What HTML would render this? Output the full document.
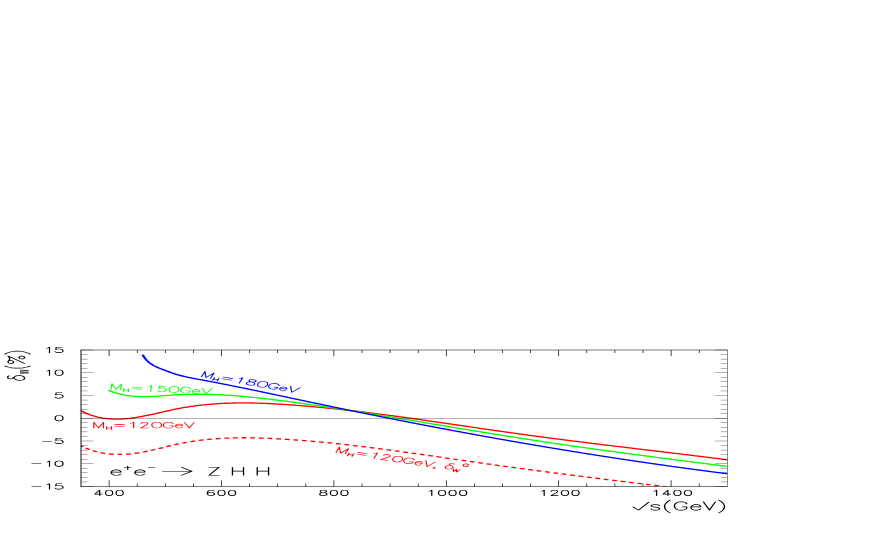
<!DOCTYPE html>
<html><head><meta charset="utf-8"><title>plot</title>
<style>html,body{margin:0;padding:0;background:#fff;font-family:"Liberation Sans",sans-serif}svg{display:block}</style></head>
<body>
<svg width="872" height="545" viewBox="0 0 872 545">
<rect width="872" height="545" fill="#fff"/>
<g transform="scale(2 1)" fill="none">
<clipPath id="c"><rect x="40.50" y="350.00" width="323.15" height="136.50"/></clipPath>
<g clip-path="url(#c)" stroke-linejoin="round">
<path d="M40.50 445.93 L41.09 446.49 L41.67 447.02 L42.26 447.53 L42.85 448.03 L43.44 448.50 L44.02 448.95 L44.61 449.38 L45.20 449.79 L45.78 450.18 L46.37 450.55 L46.96 450.90 L47.55 451.23 L48.13 451.55 L48.72 451.85 L49.31 452.12 L49.89 452.39 L50.48 452.63 L51.07 452.86 L51.66 453.07 L52.24 453.26 L52.83 453.44 L53.42 453.60 L54.01 453.75 L54.59 453.88 L55.18 453.99 L55.77 454.10 L56.35 454.18 L56.94 454.26 L57.53 454.32 L58.12 454.36 L58.70 454.40 L59.29 454.42 L59.88 454.43 L60.46 454.42 L61.05 454.40 L61.64 454.37 L62.23 454.33 L62.81 454.27 L63.40 454.20 L63.99 454.12 L64.57 454.02 L65.16 453.91 L65.75 453.79 L66.34 453.66 L66.92 453.51 L67.51 453.36 L68.10 453.19 L68.68 453.02 L69.27 452.83 L69.86 452.64 L70.45 452.43 L71.03 452.22 L71.62 452.00 L72.21 451.78 L72.79 451.54 L73.38 451.30 L73.97 451.06 L74.56 450.81 L75.14 450.55 L75.73 450.29 L76.32 450.02 L76.90 449.75 L77.49 449.48 L78.08 449.20 L78.67 448.92 L79.25 448.64 L79.84 448.36 L80.43 448.07 L81.02 447.79 L81.60 447.50 L82.19 447.21 L82.78 446.93 L83.36 446.64 L83.95 446.36 L84.54 446.08 L85.13 445.80 L85.71 445.52 L86.30 445.25 L86.89 444.98 L87.47 444.72 L88.06 444.46 L88.65 444.20 L89.24 443.95 L89.82 443.70 L90.41 443.46 L91.00 443.23 L91.58 443.00 L92.17 442.78 L92.76 442.56 L93.35 442.35 L93.93 442.14 L94.52 441.94 L95.11 441.75 L95.69 441.56 L96.28 441.38 L96.87 441.20 L97.46 441.02 L98.04 440.86 L98.63 440.69 L99.22 440.53 L99.80 440.38 L100.39 440.23 L100.98 440.09 L101.57 439.95 L102.15 439.82 L102.74 439.69 L103.33 439.56 L103.91 439.45 L104.50 439.33 L105.09 439.22 L105.68 439.11 L106.26 439.01 L106.85 438.92 L107.44 438.82 L108.03 438.74 L108.61 438.65 L109.20 438.57 L109.79 438.50 L110.37 438.42 L110.96 438.36 L111.55 438.29 L112.14 438.23 L112.72 438.18 L113.31 438.13 L113.90 438.08 L114.48 438.03 L115.07 437.99 L115.66 437.95 L116.25 437.92 L116.83 437.89 L117.42 437.86 L118.01 437.84 L118.59 437.82 L119.18 437.80 L119.77 437.79 L120.36 437.78 L120.94 437.77 L121.53 437.77 L122.12 437.77 L122.70 437.77 L123.29 437.78 L123.88 437.79 L124.47 437.80 L125.05 437.81 L125.64 437.83 L126.23 437.85 L126.81 437.87 L127.40 437.89 L127.99 437.92 L128.58 437.95 L129.16 437.98 L129.75 438.01 L130.34 438.05 L130.92 438.09 L131.51 438.13 L132.10 438.17 L132.69 438.22 L133.27 438.27 L133.86 438.32 L134.45 438.37 L135.04 438.42 L135.62 438.48 L136.21 438.53 L136.80 438.59 L137.38 438.65 L137.97 438.72 L138.56 438.78 L139.15 438.84 L139.73 438.91 L140.32 438.98 L140.91 439.05 L141.49 439.12 L142.08 439.19 L142.67 439.27 L143.26 439.34 L143.84 439.42 L144.43 439.50 L145.02 439.57 L145.60 439.66 L146.19 439.74 L146.78 439.82 L147.37 439.90 L147.95 439.99 L148.54 440.08 L149.13 440.16 L149.71 440.25 L150.30 440.34 L150.89 440.44 L151.48 440.53 L152.06 440.62 L152.65 440.72 L153.24 440.82 L153.82 440.91 L154.41 441.01 L155.00 441.11 L155.59 441.21 L156.17 441.32 L156.76 441.42 L157.35 441.52 L157.93 441.63 L158.52 441.74 L159.11 441.85 L159.70 441.95 L160.28 442.06 L160.87 442.18 L161.46 442.29 L162.05 442.40 L162.63 442.52 L163.22 442.63 L163.81 442.75 L164.39 442.86 L164.98 442.98 L165.57 443.10 L166.16 443.22 L166.74 443.34 L167.33 443.47 L167.92 443.59 L168.50 443.71 L169.09 443.84 L169.68 443.96 L170.27 444.09 L170.85 444.22 L171.44 444.35 L172.03 444.48 L172.61 444.61 L173.20 444.74 L173.79 444.87 L174.38 445.00 L174.96 445.14 L175.55 445.27 L176.14 445.41 L176.72 445.54 L177.31 445.68 L177.90 445.82 L178.49 445.96 L179.07 446.10 L179.66 446.24 L180.25 446.38 L180.83 446.52 L181.42 446.66 L182.01 446.80 L182.60 446.95 L183.18 447.09 L183.77 447.24 L184.36 447.38 L184.94 447.53 L185.53 447.68 L186.12 447.82 L186.71 447.97 L187.29 448.12 L187.88 448.27 L188.47 448.42 L189.06 448.57 L189.64 448.72 L190.23 448.87 L190.82 449.03 L191.40 449.18 L191.99 449.33 L192.58 449.49 L193.17 449.64 L193.75 449.80 L194.34 449.95 L194.93 450.11 L195.51 450.27 L196.10 450.42 L196.69 450.58 L197.28 450.74 L197.86 450.90 L198.45 451.06 L199.04 451.22 L199.62 451.38 L200.21 451.54 L200.80 451.70 L201.39 451.86 L201.97 452.02 L202.56 452.18 L203.15 452.35 L203.73 452.51 L204.32 452.67 L204.91 452.84 L205.50 453.00 L206.08 453.16 L206.67 453.33 L207.26 453.49 L207.84 453.66 L208.43 453.82 L209.02 453.99 L209.61 454.15 L210.19 454.32 L210.78 454.49 L211.37 454.65 L211.95 454.82 L212.54 454.99 L213.13 455.15 L213.72 455.32 L214.30 455.49 L214.89 455.66 L215.48 455.82 L216.07 455.99 L216.65 456.16 L217.24 456.33 L217.83 456.50 L218.41 456.67 L219.00 456.83 L219.59 457.00 L220.18 457.17 L220.76 457.34 L221.35 457.51 L221.94 457.68 L222.52 457.85 L223.11 458.02 L223.70 458.19 L224.29 458.36 L224.87 458.53 L225.46 458.69 L226.05 458.86 L226.63 459.03 L227.22 459.20 L227.81 459.37 L228.40 459.54 L228.98 459.71 L229.57 459.88 L230.16 460.05 L230.74 460.22 L231.33 460.39 L231.92 460.55 L232.51 460.72 L233.09 460.89 L233.68 461.06 L234.27 461.23 L234.85 461.40 L235.44 461.56 L236.03 461.73 L236.62 461.90 L237.20 462.07 L237.79 462.23 L238.38 462.40 L238.96 462.57 L239.55 462.73 L240.14 462.90 L240.73 463.07 L241.31 463.23 L241.90 463.40 L242.49 463.56 L243.08 463.73 L243.66 463.89 L244.25 464.06 L244.84 464.22 L245.42 464.39 L246.01 464.55 L246.60 464.71 L247.19 464.88 L247.77 465.04 L248.36 465.20 L248.95 465.36 L249.53 465.53 L250.12 465.69 L250.71 465.85 L251.30 466.01 L251.88 466.17 L252.47 466.33 L253.06 466.50 L253.64 466.66 L254.23 466.82 L254.82 466.98 L255.41 467.14 L255.99 467.30 L256.58 467.45 L257.17 467.61 L257.75 467.77 L258.34 467.93 L258.93 468.09 L259.52 468.25 L260.10 468.41 L260.69 468.56 L261.28 468.72 L261.86 468.88 L262.45 469.04 L263.04 469.19 L263.63 469.35 L264.21 469.51 L264.80 469.66 L265.39 469.82 L265.97 469.97 L266.56 470.13 L267.15 470.29 L267.74 470.44 L268.32 470.60 L268.91 470.75 L269.50 470.90 L270.09 471.06 L270.67 471.21 L271.26 471.37 L271.85 471.52 L272.43 471.67 L273.02 471.83 L273.61 471.98 L274.20 472.13 L274.78 472.29 L275.37 472.44 L275.96 472.59 L276.54 472.74 L277.13 472.90 L277.72 473.05 L278.31 473.20 L278.89 473.35 L279.48 473.50 L280.07 473.65 L280.65 473.80 L281.24 473.95 L281.83 474.11 L282.42 474.26 L283.00 474.41 L283.59 474.56 L284.18 474.71 L284.76 474.86 L285.35 475.00 L285.94 475.15 L286.53 475.30 L287.11 475.45 L287.70 475.60 L288.29 475.75 L288.87 475.90 L289.46 476.05 L290.05 476.19 L290.64 476.34 L291.22 476.49 L291.81 476.64 L292.40 476.79 L292.98 476.93 L293.57 477.08 L294.16 477.23 L294.75 477.37 L295.33 477.52 L295.92 477.67 L296.51 477.81 L297.10 477.96 L297.68 478.11 L298.27 478.25 L298.86 478.40 L299.44 478.54 L300.03 478.69 L300.62 478.84 L301.21 478.98 L301.79 479.13 L302.38 479.27 L302.97 479.42 L303.55 479.56 L304.14 479.71 L304.73 479.85 L305.32 480.00 L305.90 480.14 L306.49 480.28 L307.08 480.43 L307.66 480.57 L308.25 480.72 L308.84 480.86 L309.43 481.00 L310.01 481.15 L310.60 481.29 L311.19 481.43 L311.77 481.58 L312.36 481.72 L312.95 481.86 L313.54 482.00 L314.12 482.15 L314.71 482.29 L315.30 482.43 L315.88 482.57 L316.47 482.72 L317.06 482.86 L317.65 483.00 L318.23 483.14 L318.82 483.28 L319.41 483.43 L319.99 483.57 L320.58 483.71 L321.17 483.85 L321.76 483.99 L322.34 484.13 L322.93 484.27 L323.52 484.42 L324.11 484.56 L324.69 484.70 L325.28 484.84 L325.87 484.98 L326.45 485.12 L327.04 485.26 L327.63 485.40 L328.22 485.54 L328.80 485.68 L329.39 485.82 L329.98 485.96 L330.56 486.10 L331.15 486.24 L331.74 486.38 L332.33 486.52 L332.91 486.66 L333.50 486.80" stroke="#f00" stroke-width="1.30" stroke-dasharray="2.42 1.91" stroke-dashoffset="1.05"/>
<path d="M40.50 410.74 L41.15 411.40 L41.80 412.03 L42.44 412.63 L43.09 413.20 L43.74 413.74 L44.39 414.25 L45.03 414.73 L45.68 415.19 L46.33 415.61 L46.98 416.01 L47.63 416.38 L48.27 416.73 L48.92 417.05 L49.57 417.34 L50.22 417.61 L50.86 417.85 L51.51 418.08 L52.16 418.28 L52.81 418.45 L53.46 418.61 L54.10 418.74 L54.75 418.85 L55.40 418.94 L56.05 419.02 L56.69 419.07 L57.34 419.10 L57.99 419.12 L58.64 419.12 L59.29 419.10 L59.93 419.07 L60.58 419.02 L61.23 418.95 L61.88 418.87 L62.53 418.77 L63.17 418.67 L63.82 418.54 L64.47 418.41 L65.12 418.26 L65.76 418.10 L66.41 417.93 L67.06 417.75 L67.71 417.56 L68.36 417.36 L69.00 417.15 L69.65 416.93 L70.30 416.70 L70.95 416.47 L71.59 416.22 L72.24 415.97 L72.89 415.72 L73.54 415.46 L74.19 415.19 L74.83 414.92 L75.48 414.64 L76.13 414.36 L76.78 414.08 L77.42 413.79 L78.07 413.50 L78.72 413.21 L79.37 412.92 L80.02 412.62 L80.66 412.33 L81.31 412.03 L81.96 411.74 L82.61 411.45 L83.25 411.16 L83.90 410.87 L84.55 410.58 L85.20 410.29 L85.85 410.01 L86.49 409.73 L87.14 409.46 L87.79 409.19 L88.44 408.93 L89.08 408.67 L89.73 408.42 L90.38 408.18 L91.03 407.94 L91.68 407.71 L92.32 407.48 L92.97 407.26 L93.62 407.05 L94.27 406.84 L94.91 406.64 L95.56 406.45 L96.21 406.26 L96.86 406.08 L97.51 405.90 L98.15 405.73 L98.80 405.56 L99.45 405.40 L100.10 405.25 L100.74 405.10 L101.39 404.96 L102.04 404.82 L102.69 404.69 L103.34 404.56 L103.98 404.44 L104.63 404.32 L105.28 404.21 L105.93 404.10 L106.58 404.00 L107.22 403.91 L107.87 403.82 L108.52 403.73 L109.17 403.65 L109.81 403.57 L110.46 403.50 L111.11 403.43 L111.76 403.37 L112.41 403.31 L113.05 403.25 L113.70 403.20 L114.35 403.16 L115.00 403.12 L115.64 403.08 L116.29 403.05 L116.94 403.02 L117.59 402.99 L118.24 402.97 L118.88 402.96 L119.53 402.94 L120.18 402.93 L120.83 402.93 L121.47 402.93 L122.12 402.93 L122.77 402.93 L123.42 402.94 L124.07 402.96 L124.71 402.97 L125.36 402.99 L126.01 403.01 L126.66 403.04 L127.30 403.07 L127.95 403.10 L128.60 403.13 L129.25 403.17 L129.90 403.21 L130.54 403.25 L131.19 403.30 L131.84 403.35 L132.49 403.40 L133.13 403.45 L133.78 403.51 L134.43 403.57 L135.08 403.63 L135.73 403.69 L136.37 403.76 L137.02 403.83 L137.67 403.90 L138.32 403.97 L138.96 404.05 L139.61 404.12 L140.26 404.20 L140.91 404.28 L141.56 404.37 L142.20 404.45 L142.85 404.54 L143.50 404.62 L144.15 404.71 L144.80 404.80 L145.44 404.90 L146.09 404.99 L146.74 405.09 L147.39 405.18 L148.03 405.28 L148.68 405.38 L149.33 405.48 L149.98 405.58 L150.63 405.69 L151.27 405.79 L151.92 405.90 L152.57 406.01 L153.22 406.12 L153.86 406.23 L154.51 406.34 L155.16 406.45 L155.81 406.57 L156.46 406.68 L157.10 406.80 L157.75 406.92 L158.40 407.04 L159.05 407.16 L159.69 407.28 L160.34 407.40 L160.99 407.53 L161.64 407.65 L162.29 407.78 L162.93 407.91 L163.58 408.04 L164.23 408.17 L164.88 408.30 L165.52 408.43 L166.17 408.56 L166.82 408.70 L167.47 408.83 L168.12 408.97 L168.76 409.11 L169.41 409.25 L170.06 409.39 L170.71 409.53 L171.35 409.67 L172.00 409.82 L172.65 409.96 L173.30 410.10 L173.95 410.25 L174.59 410.40 L175.24 410.55 L175.89 410.69 L176.54 410.84 L177.18 411.00 L177.83 411.15 L178.48 411.30 L179.13 411.45 L179.78 411.61 L180.42 411.76 L181.07 411.92 L181.72 412.08 L182.37 412.24 L183.02 412.39 L183.66 412.55 L184.31 412.71 L184.96 412.88 L185.61 413.04 L186.25 413.20 L186.90 413.36 L187.55 413.53 L188.20 413.69 L188.85 413.86 L189.49 414.03 L190.14 414.19 L190.79 414.36 L191.44 414.53 L192.08 414.70 L192.73 414.87 L193.38 415.04 L194.03 415.21 L194.68 415.38 L195.32 415.55 L195.97 415.73 L196.62 415.90 L197.27 416.07 L197.91 416.25 L198.56 416.43 L199.21 416.60 L199.86 416.78 L200.51 416.95 L201.15 417.13 L201.80 417.31 L202.45 417.49 L203.10 417.67 L203.74 417.85 L204.39 418.03 L205.04 418.21 L205.69 418.39 L206.34 418.57 L206.98 418.75 L207.63 418.93 L208.28 419.12 L208.93 419.30 L209.57 419.48 L210.22 419.67 L210.87 419.85 L211.52 420.03 L212.17 420.22 L212.81 420.40 L213.46 420.59 L214.11 420.77 L214.76 420.96 L215.40 421.15 L216.05 421.33 L216.70 421.52 L217.35 421.71 L218.00 421.89 L218.64 422.08 L219.29 422.27 L219.94 422.46 L220.59 422.64 L221.23 422.83 L221.88 423.02 L222.53 423.21 L223.18 423.40 L223.83 423.59 L224.47 423.78 L225.12 423.97 L225.77 424.15 L226.42 424.34 L227.07 424.53 L227.71 424.72 L228.36 424.91 L229.01 425.10 L229.66 425.29 L230.30 425.48 L230.95 425.67 L231.60 425.86 L232.25 426.05 L232.90 426.24 L233.54 426.43 L234.19 426.62 L234.84 426.81 L235.49 427.00 L236.13 427.18 L236.78 427.37 L237.43 427.56 L238.08 427.75 L238.73 427.94 L239.37 428.13 L240.02 428.32 L240.67 428.51 L241.32 428.69 L241.96 428.88 L242.61 429.07 L243.26 429.26 L243.91 429.45 L244.56 429.63 L245.20 429.82 L245.85 430.01 L246.50 430.19 L247.15 430.38 L247.79 430.57 L248.44 430.75 L249.09 430.94 L249.74 431.12 L250.39 431.31 L251.03 431.49 L251.68 431.67 L252.33 431.86 L252.98 432.04 L253.62 432.22 L254.27 432.41 L254.92 432.59 L255.57 432.77 L256.22 432.95 L256.86 433.13 L257.51 433.31 L258.16 433.49 L258.81 433.67 L259.45 433.85 L260.10 434.03 L260.75 434.21 L261.40 434.39 L262.05 434.56 L262.69 434.74 L263.34 434.92 L263.99 435.09 L264.64 435.27 L265.29 435.44 L265.93 435.62 L266.58 435.79 L267.23 435.97 L267.88 436.14 L268.52 436.31 L269.17 436.49 L269.82 436.66 L270.47 436.83 L271.12 437.00 L271.76 437.17 L272.41 437.34 L273.06 437.51 L273.71 437.68 L274.35 437.85 L275.00 438.02 L275.65 438.19 L276.30 438.36 L276.95 438.53 L277.59 438.69 L278.24 438.86 L278.89 439.03 L279.54 439.20 L280.18 439.36 L280.83 439.53 L281.48 439.69 L282.13 439.86 L282.78 440.02 L283.42 440.19 L284.07 440.35 L284.72 440.52 L285.37 440.68 L286.01 440.85 L286.66 441.01 L287.31 441.17 L287.96 441.34 L288.61 441.50 L289.25 441.66 L289.90 441.82 L290.55 441.98 L291.20 442.15 L291.84 442.31 L292.49 442.47 L293.14 442.63 L293.79 442.79 L294.44 442.95 L295.08 443.11 L295.73 443.27 L296.38 443.43 L297.03 443.59 L297.67 443.75 L298.32 443.91 L298.97 444.07 L299.62 444.23 L300.27 444.38 L300.91 444.54 L301.56 444.70 L302.21 444.86 L302.86 445.02 L303.51 445.18 L304.15 445.33 L304.80 445.49 L305.45 445.65 L306.10 445.80 L306.74 445.96 L307.39 446.12 L308.04 446.28 L308.69 446.43 L309.34 446.59 L309.98 446.74 L310.63 446.90 L311.28 447.06 L311.93 447.21 L312.57 447.37 L313.22 447.53 L313.87 447.68 L314.52 447.84 L315.17 447.99 L315.81 448.15 L316.46 448.30 L317.11 448.46 L317.76 448.61 L318.40 448.77 L319.05 448.93 L319.70 449.08 L320.35 449.24 L321.00 449.39 L321.64 449.55 L322.29 449.70 L322.94 449.86 L323.59 450.01 L324.23 450.17 L324.88 450.32 L325.53 450.48 L326.18 450.63 L326.83 450.79 L327.47 450.94 L328.12 451.10 L328.77 451.25 L329.42 451.41 L330.06 451.56 L330.71 451.72 L331.36 451.87 L332.01 452.03 L332.66 452.18 L333.30 452.34 L333.95 452.49 L334.60 452.65 L335.25 452.81 L335.89 452.96 L336.54 453.12 L337.19 453.27 L337.84 453.43 L338.49 453.58 L339.13 453.74 L339.78 453.90 L340.43 454.05 L341.08 454.21 L341.72 454.37 L342.37 454.52 L343.02 454.68 L343.67 454.84 L344.32 454.99 L344.96 455.15 L345.61 455.31 L346.26 455.46 L346.91 455.62 L347.56 455.78 L348.20 455.94 L348.85 456.09 L349.50 456.25 L350.15 456.41 L350.79 456.57 L351.44 456.73 L352.09 456.89 L352.74 457.05 L353.39 457.21 L354.03 457.37 L354.68 457.52 L355.33 457.68 L355.98 457.84 L356.62 458.01 L357.27 458.17 L357.92 458.33 L358.57 458.49 L359.22 458.65 L359.86 458.81 L360.51 458.97 L361.16 459.13 L361.81 459.30 L362.45 459.46 L363.10 459.62 L363.75 459.78" stroke="#f00" stroke-width="1.30"/>
<path d="M54.30 390.27 L54.92 390.78 L55.54 391.27 L56.16 391.74 L56.78 392.17 L57.40 392.59 L58.02 392.97 L58.64 393.34 L59.26 393.68 L59.88 394.00 L60.50 394.29 L61.12 394.57 L61.74 394.82 L62.36 395.06 L62.98 395.27 L63.60 395.47 L64.22 395.65 L64.84 395.81 L65.46 395.95 L66.08 396.08 L66.70 396.19 L67.32 396.28 L67.94 396.37 L68.56 396.44 L69.18 396.49 L69.80 396.53 L70.42 396.56 L71.04 396.58 L71.66 396.59 L72.28 396.59 L72.90 396.58 L73.52 396.56 L74.14 396.53 L74.76 396.49 L75.38 396.45 L76.00 396.40 L76.63 396.34 L77.25 396.28 L77.87 396.21 L78.49 396.14 L79.11 396.06 L79.73 395.98 L80.35 395.90 L80.97 395.81 L81.59 395.72 L82.21 395.64 L82.83 395.55 L83.45 395.46 L84.07 395.37 L84.69 395.28 L85.31 395.19 L85.93 395.11 L86.55 395.03 L87.17 394.95 L87.79 394.87 L88.41 394.80 L89.03 394.74 L89.65 394.67 L90.27 394.62 L90.89 394.56 L91.51 394.52 L92.13 394.47 L92.75 394.43 L93.37 394.39 L93.99 394.36 L94.61 394.33 L95.23 394.31 L95.85 394.29 L96.47 394.27 L97.09 394.26 L97.71 394.25 L98.33 394.24 L98.95 394.24 L99.57 394.25 L100.19 394.25 L100.81 394.26 L101.43 394.27 L102.05 394.29 L102.67 394.31 L103.29 394.34 L103.91 394.36 L104.53 394.39 L105.15 394.43 L105.77 394.46 L106.39 394.50 L107.01 394.55 L107.63 394.60 L108.25 394.65 L108.87 394.70 L109.49 394.75 L110.11 394.81 L110.73 394.88 L111.35 394.94 L111.97 395.01 L112.59 395.08 L113.21 395.15 L113.83 395.23 L114.45 395.31 L115.07 395.39 L115.69 395.48 L116.31 395.56 L116.93 395.65 L117.55 395.75 L118.17 395.84 L118.79 395.94 L119.41 396.04 L120.03 396.14 L120.66 396.24 L121.28 396.35 L121.90 396.46 L122.52 396.57 L123.14 396.68 L123.76 396.80 L124.38 396.92 L125.00 397.04 L125.62 397.16 L126.24 397.28 L126.86 397.41 L127.48 397.54 L128.10 397.66 L128.72 397.80 L129.34 397.93 L129.96 398.06 L130.58 398.20 L131.20 398.34 L131.82 398.48 L132.44 398.62 L133.06 398.76 L133.68 398.91 L134.30 399.05 L134.92 399.20 L135.54 399.35 L136.16 399.50 L136.78 399.65 L137.40 399.80 L138.02 399.95 L138.64 400.11 L139.26 400.26 L139.88 400.42 L140.50 400.58 L141.12 400.74 L141.74 400.90 L142.36 401.06 L142.98 401.22 L143.60 401.38 L144.22 401.55 L144.84 401.71 L145.46 401.88 L146.08 402.04 L146.70 402.21 L147.32 402.38 L147.94 402.55 L148.56 402.71 L149.18 402.88 L149.80 403.05 L150.42 403.22 L151.04 403.40 L151.66 403.57 L152.28 403.74 L152.90 403.91 L153.52 404.09 L154.14 404.26 L154.76 404.44 L155.38 404.61 L156.00 404.79 L156.62 404.97 L157.24 405.14 L157.86 405.32 L158.48 405.50 L159.10 405.68 L159.72 405.86 L160.34 406.04 L160.96 406.22 L161.58 406.40 L162.20 406.59 L162.82 406.77 L163.44 406.95 L164.06 407.14 L164.68 407.32 L165.31 407.51 L165.93 407.69 L166.55 407.88 L167.17 408.06 L167.79 408.25 L168.41 408.44 L169.03 408.63 L169.65 408.82 L170.27 409.00 L170.89 409.19 L171.51 409.38 L172.13 409.57 L172.75 409.76 L173.37 409.96 L173.99 410.15 L174.61 410.34 L175.23 410.53 L175.85 410.73 L176.47 410.92 L177.09 411.11 L177.71 411.31 L178.33 411.50 L178.95 411.70 L179.57 411.89 L180.19 412.09 L180.81 412.28 L181.43 412.48 L182.05 412.68 L182.67 412.87 L183.29 413.07 L183.91 413.27 L184.53 413.47 L185.15 413.67 L185.77 413.86 L186.39 414.06 L187.01 414.26 L187.63 414.46 L188.25 414.66 L188.87 414.86 L189.49 415.06 L190.11 415.27 L190.73 415.47 L191.35 415.67 L191.97 415.87 L192.59 416.07 L193.21 416.27 L193.83 416.48 L194.45 416.68 L195.07 416.88 L195.69 417.08 L196.31 417.29 L196.93 417.49 L197.55 417.70 L198.17 417.90 L198.79 418.10 L199.41 418.31 L200.03 418.51 L200.65 418.72 L201.27 418.92 L201.89 419.13 L202.51 419.33 L203.13 419.54 L203.75 419.74 L204.37 419.95 L204.99 420.15 L205.61 420.36 L206.23 420.57 L206.85 420.77 L207.47 420.98 L208.09 421.18 L208.71 421.39 L209.34 421.60 L209.96 421.80 L210.58 422.01 L211.20 422.22 L211.82 422.42 L212.44 422.63 L213.06 422.84 L213.68 423.04 L214.30 423.25 L214.92 423.46 L215.54 423.66 L216.16 423.87 L216.78 424.08 L217.40 424.28 L218.02 424.49 L218.64 424.70 L219.26 424.91 L219.88 425.11 L220.50 425.32 L221.12 425.53 L221.74 425.73 L222.36 425.94 L222.98 426.15 L223.60 426.35 L224.22 426.56 L224.84 426.77 L225.46 426.97 L226.08 427.18 L226.70 427.38 L227.32 427.59 L227.94 427.80 L228.56 428.00 L229.18 428.21 L229.80 428.41 L230.42 428.62 L231.04 428.83 L231.66 429.03 L232.28 429.24 L232.90 429.44 L233.52 429.65 L234.14 429.85 L234.76 430.05 L235.38 430.26 L236.00 430.46 L236.62 430.67 L237.24 430.87 L237.86 431.07 L238.48 431.28 L239.10 431.48 L239.72 431.68 L240.34 431.89 L240.96 432.09 L241.58 432.29 L242.20 432.49 L242.82 432.69 L243.44 432.90 L244.06 433.10 L244.68 433.30 L245.30 433.50 L245.92 433.70 L246.54 433.90 L247.16 434.10 L247.78 434.30 L248.40 434.50 L249.02 434.70 L249.64 434.89 L250.26 435.09 L250.88 435.29 L251.50 435.49 L252.12 435.69 L252.74 435.88 L253.37 436.08 L253.99 436.27 L254.61 436.47 L255.23 436.67 L255.85 436.86 L256.47 437.06 L257.09 437.25 L257.71 437.44 L258.33 437.64 L258.95 437.83 L259.57 438.02 L260.19 438.21 L260.81 438.41 L261.43 438.60 L262.05 438.79 L262.67 438.98 L263.29 439.17 L263.91 439.36 L264.53 439.55 L265.15 439.74 L265.77 439.92 L266.39 440.11 L267.01 440.30 L267.63 440.49 L268.25 440.67 L268.87 440.86 L269.49 441.05 L270.11 441.23 L270.73 441.42 L271.35 441.60 L271.97 441.79 L272.59 441.97 L273.21 442.16 L273.83 442.34 L274.45 442.52 L275.07 442.71 L275.69 442.89 L276.31 443.07 L276.93 443.25 L277.55 443.43 L278.17 443.62 L278.79 443.80 L279.41 443.98 L280.03 444.16 L280.65 444.34 L281.27 444.52 L281.89 444.70 L282.51 444.87 L283.13 445.05 L283.75 445.23 L284.37 445.41 L284.99 445.59 L285.61 445.76 L286.23 445.94 L286.85 446.12 L287.47 446.29 L288.09 446.47 L288.71 446.65 L289.33 446.82 L289.95 447.00 L290.57 447.17 L291.19 447.35 L291.81 447.52 L292.43 447.69 L293.05 447.87 L293.67 448.04 L294.29 448.21 L294.91 448.39 L295.53 448.56 L296.15 448.73 L296.77 448.90 L297.39 449.07 L298.02 449.25 L298.64 449.42 L299.26 449.59 L299.88 449.76 L300.50 449.93 L301.12 450.10 L301.74 450.27 L302.36 450.44 L302.98 450.61 L303.60 450.78 L304.22 450.95 L304.84 451.11 L305.46 451.28 L306.08 451.45 L306.70 451.62 L307.32 451.79 L307.94 451.95 L308.56 452.12 L309.18 452.29 L309.80 452.46 L310.42 452.62 L311.04 452.79 L311.66 452.96 L312.28 453.12 L312.90 453.29 L313.52 453.45 L314.14 453.62 L314.76 453.78 L315.38 453.95 L316.00 454.11 L316.62 454.28 L317.24 454.44 L317.86 454.61 L318.48 454.77 L319.10 454.93 L319.72 455.10 L320.34 455.26 L320.96 455.42 L321.58 455.59 L322.20 455.75 L322.82 455.91 L323.44 456.08 L324.06 456.24 L324.68 456.40 L325.30 456.56 L325.92 456.73 L326.54 456.89 L327.16 457.05 L327.78 457.21 L328.40 457.37 L329.02 457.53 L329.64 457.69 L330.26 457.86 L330.88 458.02 L331.50 458.18 L332.12 458.34 L332.74 458.50 L333.36 458.66 L333.98 458.82 L334.60 458.98 L335.22 459.14 L335.84 459.30 L336.46 459.46 L337.08 459.62 L337.70 459.78 L338.32 459.94 L338.94 460.10 L339.56 460.26 L340.18 460.41 L340.80 460.57 L341.42 460.73 L342.05 460.89 L342.67 461.05 L343.29 461.21 L343.91 461.37 L344.53 461.53 L345.15 461.68 L345.77 461.84 L346.39 462.00 L347.01 462.16 L347.63 462.32 L348.25 462.48 L348.87 462.63 L349.49 462.79 L350.11 462.95 L350.73 463.11 L351.35 463.27 L351.97 463.42 L352.59 463.58 L353.21 463.74 L353.83 463.90 L354.45 464.05 L355.07 464.21 L355.69 464.37 L356.31 464.53 L356.93 464.68 L357.55 464.84 L358.17 465.00 L358.79 465.15 L359.41 465.31 L360.03 465.47 L360.65 465.63 L361.27 465.78 L361.89 465.94 L362.51 466.10 L363.13 466.26 L363.75 466.41" stroke="#0f0" stroke-width="1.30"/>
<path d="M71.33 354.78 L71.57 355.55 L71.81 356.28 L72.06 356.98 L72.30 357.64 L72.54 358.27 L72.79 358.88 L73.03 359.45 L73.28 359.99 L73.52 360.51 L73.76 361.00 L74.01 361.47 L74.25 361.92 L74.50 362.34 L74.74 362.74 L74.98 363.12 L75.23 363.48 L75.47 363.83 L75.72 364.16 L75.96 364.47 L76.20 364.78 L76.45 365.06 L76.69 365.34 L76.93 365.61 L77.18 365.87 L77.42 366.12 L77.67 366.36 L77.91 366.60 L78.15 366.82 L78.40 367.05 L78.64 367.27 L78.89 367.48 L79.13 367.69 L79.37 367.89 L79.62 368.09 L79.86 368.29 L80.11 368.48 L80.35 368.67 L80.59 368.86 L80.84 369.05 L81.08 369.24 L81.32 369.42 L81.57 369.61 L81.81 369.80 L82.06 369.99 L82.30 370.17 L82.54 370.36 L82.79 370.55 L83.03 370.74 L83.28 370.93 L83.52 371.12 L83.76 371.30 L84.01 371.49 L84.25 371.67 L84.50 371.86 L84.74 372.04 L84.98 372.22 L85.23 372.40 L85.47 372.58 L85.71 372.75 L85.96 372.92 L86.20 373.09 L86.45 373.26 L86.69 373.43 L86.93 373.59 L87.18 373.75 L87.42 373.90 L87.67 374.05 L87.91 374.20 L88.15 374.35 L88.40 374.50 L88.64 374.64 L88.89 374.78 L89.13 374.92 L89.37 375.06 L89.62 375.19 L89.86 375.32 L90.10 375.45 L90.35 375.58 L90.59 375.70 L90.84 375.83 L91.08 375.95 L91.32 376.07 L91.57 376.19 L91.81 376.30 L92.06 376.42 L92.30 376.53 L92.54 376.64 L92.79 376.75 L93.03 376.86 L93.28 376.97 L93.52 377.07 L93.76 377.18 L94.01 377.28 L94.25 377.38 L94.49 377.48 L94.74 377.58 L94.98 377.68 L95.23 377.78 L95.47 377.88 L95.71 377.97 L95.96 378.07 L96.20 378.16 L96.45 378.26 L96.69 378.35 L96.93 378.44 L97.18 378.53 L97.42 378.62 L97.67 378.72 L97.91 378.81 L98.15 378.90 L98.40 378.99 L98.64 379.08 L98.88 379.17 L99.13 379.26 L99.37 379.35 L99.62 379.44 L99.86 379.52 L100.10 379.61 L100.35 379.70 L100.59 379.79 L100.84 379.88 L101.08 379.97 L101.32 380.07 L101.57 380.16 L101.81 380.25 L102.06 380.34 L102.30 380.43 L102.54 380.52 L102.79 380.61 L103.03 380.70 L103.27 380.79 L103.52 380.89 L103.76 380.98 L104.01 381.07 L104.25 381.16 L104.49 381.25 L104.74 381.35 L104.98 381.44 L105.23 381.53 L105.47 381.62 L105.71 381.72 L105.96 381.81 L106.20 381.90 L106.45 382.00 L106.69 382.09 L106.93 382.18 L107.18 382.28 L107.42 382.37 L107.66 382.46 L107.91 382.56 L108.15 382.65 L108.40 382.75 L108.64 382.84 L108.88 382.94 L109.13 383.03 L109.37 383.13 L109.62 383.22 L109.86 383.32 L110.10 383.41 L110.35 383.51 L110.59 383.60 L110.84 383.70 L111.08 383.79 L111.32 383.89 L111.57 383.98 L111.81 384.08 L112.05 384.18 L112.30 384.27 L112.54 384.37 L112.79 384.46 L113.03 384.56 L113.27 384.66 L113.52 384.75 L113.76 384.85 L114.01 384.95 L114.25 385.04 L114.49 385.14 L114.74 385.24 L114.98 385.34 L115.23 385.43 L115.47 385.53 L115.71 385.63 L115.96 385.73 L116.20 385.82 L116.44 385.92 L116.69 386.02 L116.93 386.12 L117.18 386.22 L117.42 386.31 L117.66 386.41 L117.91 386.51 L118.15 386.61 L118.40 386.71 L118.64 386.81 L118.88 386.91 L119.13 387.00 L119.37 387.10 L119.62 387.20 L119.86 387.30 L120.10 387.40 L120.35 387.50 L120.59 387.60 L120.83 387.70 L121.08 387.80 L121.32 387.90 L121.57 388.00 L121.81 388.10 L122.05 388.20 L122.30 388.30 L122.54 388.40 L122.79 388.50 L123.03 388.60 L123.27 388.70 L123.52 388.80 L123.76 388.90 L124.01 389.00 L124.25 389.10 L124.49 389.20 L124.74 389.30 L124.98 389.40 L125.22 389.50 L125.47 389.60 L125.71 389.70 L125.96 389.80 L126.20 389.91 L126.44 390.01 L126.69 390.11 L126.93 390.21 L127.18 390.31 L127.42 390.41 L127.66 390.51 L127.91 390.61 L128.15 390.72 L128.40 390.82 L128.64 390.92 L128.88 391.02 L129.13 391.12 L129.37 391.22 L129.61 391.33 L129.86 391.43 L130.10 391.53 L130.35 391.63 L130.59 391.73 L130.83 391.84 L131.08 391.94 L131.32 392.04 L131.57 392.14 L131.81 392.24 L132.05 392.35 L132.30 392.45 L132.54 392.55 L132.79 392.65 L133.03 392.76 L133.27 392.86 L133.52 392.96 L133.76 393.06 L134.00 393.17 L134.25 393.27 L134.49 393.37 L134.74 393.47 L134.98 393.58 L135.22 393.68 L135.47 393.78 L135.71 393.89 L135.96 393.99 L136.20 394.09 L136.44 394.19 L136.69 394.30 L136.93 394.40 L137.18 394.50 L137.42 394.61 L137.66 394.71 L137.91 394.81 L138.15 394.92 L138.39 395.02 L138.64 395.12 L138.88 395.23 L139.13 395.33 L139.37 395.43 L139.61 395.54 L139.86 395.64 L140.10 395.74 L140.35 395.85 L140.59 395.95 L140.83 396.05 L141.08 396.16 L141.32 396.26 L141.57 396.36 L141.81 396.47 L142.05 396.57 L142.30 396.67 L142.54 396.78 L142.78 396.88 L143.03 396.98 L143.27 397.09 L143.52 397.19 L143.76 397.29 L144.00 397.40 L144.25 397.50 L144.49 397.61 L144.74 397.71 L144.98 397.81 L145.22 397.92 L145.47 398.02 L145.71 398.12 L145.96 398.23 L146.20 398.33 L146.44 398.43 L146.69 398.54 L146.93 398.64 L147.18 398.75 L147.42 398.85 L147.66 398.95 L147.91 399.06 L148.15 399.16 L148.39 399.26 L148.64 399.37 L148.88 399.47 L149.13 399.57 L149.37 399.68 L149.61 399.78 L149.86 399.88 L150.10 399.99 L150.35 400.09 L150.59 400.20 L150.83 400.30 L151.08 400.40 L151.32 400.51 L151.57 400.61 L151.81 400.71 L152.05 400.82 L152.30 400.92 L152.54 401.02 L152.78 401.13 L153.03 401.23 L153.27 401.33 L153.52 401.44 L153.76 401.54 L154.00 401.64 L154.25 401.75 L154.49 401.85 L154.74 401.95 L154.98 402.05 L155.22 402.16 L155.47 402.26 L155.71 402.36 L155.96 402.47 L156.20 402.57 L156.44 402.67 L156.69 402.78 L156.93 402.88 L157.17 402.98 L157.42 403.08 L157.66 403.19 L157.91 403.29 L158.15 403.39 L158.39 403.50 L158.64 403.60 L158.88 403.70 L159.13 403.80 L159.37 403.91 L159.61 404.01 L159.86 404.11 L160.10 404.21 L160.35 404.32 L160.59 404.42 L160.83 404.52 L161.08 404.62 L161.32 404.72 L161.56 404.83 L161.81 404.93 L162.05 405.03 L162.30 405.13 L162.54 405.24 L162.78 405.34 L163.03 405.44 L163.27 405.54 L163.52 405.64 L163.76 405.74 L164.00 405.85 L164.25 405.95 L164.49 406.05 L164.74 406.15 L164.98 406.25 L165.22 406.35 L165.47 406.46 L165.71 406.56 L165.95 406.66 L166.20 406.76 L166.44 406.86 L166.69 406.96 L166.93 407.06 L167.17 407.17 L167.42 407.27 L167.66 407.37 L167.91 407.47 L168.15 407.57 L168.39 407.67 L168.64 407.77 L168.88 407.87 L169.13 407.97 L169.37 408.08 L169.61 408.18 L169.86 408.28 L170.10 408.38 L170.34 408.48 L170.59 408.58 L170.83 408.68 L171.08 408.78 L171.32 408.88 L171.56 408.98 L171.81 409.08 L172.05 409.18 L172.30 409.28 L172.54 409.38 L172.78 409.48 L173.03 409.58 L173.27 409.68 L173.52 409.78 L173.76 409.88 L174.00 409.98 L174.25 410.08 L174.49 410.18 L174.73 410.28 L174.98 410.38 L175.22 410.48 L175.47 410.58 L175.71 410.68 L175.95 410.78 L176.20 410.88 L176.44 410.98 L176.69 411.08 L176.93 411.18 L177.17 411.28 L177.42 411.38 L177.66 411.48 L177.91 411.58 L178.15 411.68 L178.39 411.78 L178.64 411.88 L178.88 411.98 L179.12 412.08 L179.37 412.18 L179.61 412.28 L179.86 412.38 L180.10 412.47 L180.34 412.57 L180.59 412.67 L180.83 412.77 L181.08 412.87 L181.32 412.97 L181.56 413.07 L181.81 413.17 L182.05 413.27 L182.30 413.37 L182.54 413.46 L182.78 413.56 L183.03 413.66 L183.27 413.76 L183.51 413.86 L183.76 413.96 L184.00 414.06 L184.25 414.15 L184.49 414.25 L184.73 414.35 L184.98 414.45 L185.22 414.55 L185.47 414.65 L185.71 414.74 L185.95 414.84 L186.20 414.94 L186.44 415.04 L186.69 415.14 L186.93 415.23 L187.17 415.33 L187.42 415.43 L187.66 415.53 L187.90 415.62 L188.15 415.72 L188.39 415.82 L188.64 415.92 L188.88 416.02 L189.12 416.11 L189.37 416.21 L189.61 416.31 L189.86 416.41 L190.10 416.50 L190.34 416.60 L190.59 416.70 L190.83 416.79 L191.08 416.89 L191.32 416.99 L191.56 417.09 L191.81 417.18 L192.05 417.28 L192.29 417.38 L192.54 417.47 L192.78 417.57 L193.03 417.67 L193.27 417.77 L193.51 417.86 L193.76 417.96 L194.00 418.06 L194.25 418.15 L194.49 418.25 L194.73 418.35 L194.98 418.44 L195.22 418.54 L195.47 418.64 L195.71 418.73 L195.95 418.83 L196.20 418.92 L196.44 419.02 L196.68 419.12 L196.93 419.21 L197.17 419.31 L197.42 419.41 L197.66 419.50 L197.90 419.60 L198.15 419.69 L198.39 419.79 L198.64 419.89 L198.88 419.98 L199.12 420.08 L199.37 420.17 L199.61 420.27 L199.86 420.36 L200.10 420.46 L200.34 420.56 L200.59 420.65 L200.83 420.75 L201.07 420.84 L201.32 420.94 L201.56 421.03 L201.81 421.13 L202.05 421.22 L202.29 421.32 L202.54 421.41 L202.78 421.51 L203.03 421.60 L203.27 421.70 L203.51 421.80 L203.76 421.89 L204.00 421.99 L204.25 422.08 L204.49 422.17 L204.73 422.27 L204.98 422.36 L205.22 422.46 L205.46 422.55 L205.71 422.65 L205.95 422.74 L206.20 422.84 L206.44 422.93 L206.68 423.03 L206.93 423.12 L207.17 423.22 L207.42 423.31 L207.66 423.40 L207.90 423.50 L208.15 423.59 L208.39 423.69 L208.64 423.78 L208.88 423.88 L209.12 423.97 L209.37 424.06 L209.61 424.16 L209.85 424.25 L210.10 424.35 L210.34 424.44 L210.59 424.53 L210.83 424.63 L211.07 424.72 L211.32 424.81 L211.56 424.91 L211.81 425.00 L212.05 425.09 L212.29 425.19 L212.54 425.28 L212.78 425.38 L213.03 425.47 L213.27 425.56 L213.51 425.65 L213.76 425.75 L214.00 425.84 L214.24 425.93 L214.49 426.03 L214.73 426.12 L214.98 426.21 L215.22 426.31 L215.46 426.40 L215.71 426.49 L215.95 426.59 L216.20 426.68 L216.44 426.77 L216.68 426.86 L216.93 426.96 L217.17 427.05 L217.42 427.14 L217.66 427.23 L217.90 427.33 L218.15 427.42 L218.39 427.51 L218.64 427.60 L218.88 427.70 L219.12 427.79 L219.37 427.88 L219.61 427.97 L219.85 428.06 L220.10 428.16 L220.34 428.25 L220.59 428.34 L220.83 428.43 L221.07 428.52 L221.32 428.62 L221.56 428.71 L221.81 428.80 L222.05 428.89 L222.29 428.98 L222.54 429.07 L222.78 429.17 L223.03 429.26 L223.27 429.35 L223.51 429.44 L223.76 429.53 L224.00 429.62 L224.24 429.71 L224.49 429.81 L224.73 429.90 L224.98 429.99 L225.22 430.08 L225.46 430.17 L225.71 430.26 L225.95 430.35 L226.20 430.44 L226.44 430.53 L226.68 430.62 L226.93 430.72 L227.17 430.81 L227.42 430.90 L227.66 430.99 L227.90 431.08 L228.15 431.17 L228.39 431.26 L228.63 431.35 L228.88 431.44 L229.12 431.53 L229.37 431.62 L229.61 431.71 L229.85 431.80 L230.10 431.89 L230.34 431.98 L230.59 432.07 L230.83 432.16 L231.07 432.25 L231.32 432.34 L231.56 432.43 L231.81 432.52 L232.05 432.61 L232.29 432.70 L232.54 432.79 L232.78 432.88 L233.02 432.97 L233.27 433.06 L233.51 433.15 L233.76 433.24 L234.00 433.33 L234.24 433.42 L234.49 433.51 L234.73 433.60 L234.98 433.69 L235.22 433.77 L235.46 433.86 L235.71 433.95 L235.95 434.04 L236.20 434.13 L236.44 434.22 L236.68 434.31 L236.93 434.40 L237.17 434.49 L237.41 434.58 L237.66 434.66 L237.90 434.75 L238.15 434.84 L238.39 434.93 L238.63 435.02 L238.88 435.11 L239.12 435.20 L239.37 435.28 L239.61 435.37 L239.85 435.46 L240.10 435.55 L240.34 435.64 L240.59 435.73 L240.83 435.81 L241.07 435.90 L241.32 435.99 L241.56 436.08 L241.80 436.17 L242.05 436.25 L242.29 436.34 L242.54 436.43 L242.78 436.52 L243.02 436.61 L243.27 436.69 L243.51 436.78 L243.76 436.87 L244.00 436.96 L244.24 437.04 L244.49 437.13 L244.73 437.22 L244.98 437.31 L245.22 437.39 L245.46 437.48 L245.71 437.57 L245.95 437.65 L246.19 437.74 L246.44 437.83 L246.68 437.92 L246.93 438.00 L247.17 438.09 L247.41 438.18 L247.66 438.26 L247.90 438.35 L248.15 438.44 L248.39 438.52 L248.63 438.61 L248.88 438.70 L249.12 438.78 L249.37 438.87 L249.61 438.96 L249.85 439.04 L250.10 439.13 L250.34 439.21 L250.58 439.30 L250.83 439.39 L251.07 439.47 L251.32 439.56 L251.56 439.65 L251.80 439.73 L252.05 439.82 L252.29 439.90 L252.54 439.99 L252.78 440.08 L253.02 440.16 L253.27 440.25 L253.51 440.33 L253.76 440.42 L254.00 440.50 L254.24 440.59 L254.49 440.67 L254.73 440.76 L254.97 440.85 L255.22 440.93 L255.46 441.02 L255.71 441.10 L255.95 441.19 L256.19 441.27 L256.44 441.36 L256.68 441.44 L256.93 441.53 L257.17 441.61 L257.41 441.70 L257.66 441.78 L257.90 441.87 L258.15 441.95 L258.39 442.04 L258.63 442.12 L258.88 442.20 L259.12 442.29 L259.36 442.37 L259.61 442.46 L259.85 442.54 L260.10 442.63 L260.34 442.71 L260.58 442.80 L260.83 442.88 L261.07 442.96 L261.32 443.05 L261.56 443.13 L261.80 443.22 L262.05 443.30 L262.29 443.38 L262.54 443.47 L262.78 443.55 L263.02 443.64 L263.27 443.72 L263.51 443.80 L263.75 443.89 L264.00 443.97 L264.24 444.05 L264.49 444.14 L264.73 444.22 L264.97 444.30 L265.22 444.39 L265.46 444.47 L265.71 444.55 L265.95 444.64 L266.19 444.72 L266.44 444.80 L266.68 444.89 L266.93 444.97 L267.17 445.05 L267.41 445.14 L267.66 445.22 L267.90 445.30 L268.14 445.38 L268.39 445.47 L268.63 445.55 L268.88 445.63 L269.12 445.71 L269.36 445.80 L269.61 445.88 L269.85 445.96 L270.10 446.04 L270.34 446.13 L270.58 446.21 L270.83 446.29 L271.07 446.37 L271.32 446.45 L271.56 446.54 L271.80 446.62 L272.05 446.70 L272.29 446.78 L272.53 446.86 L272.78 446.95 L273.02 447.03 L273.27 447.11 L273.51 447.19 L273.75 447.27 L274.00 447.35 L274.24 447.44 L274.49 447.52 L274.73 447.60 L274.97 447.68 L275.22 447.76 L275.46 447.84 L275.71 447.92 L275.95 448.00 L276.19 448.09 L276.44 448.17 L276.68 448.25 L276.92 448.33 L277.17 448.41 L277.41 448.49 L277.66 448.57 L277.90 448.65 L278.14 448.73 L278.39 448.81 L278.63 448.89 L278.88 448.97 L279.12 449.06 L279.36 449.14 L279.61 449.22 L279.85 449.30 L280.10 449.38 L280.34 449.46 L280.58 449.54 L280.83 449.62 L281.07 449.70 L281.31 449.78 L281.56 449.86 L281.80 449.94 L282.05 450.02 L282.29 450.10 L282.53 450.18 L282.78 450.26 L283.02 450.34 L283.27 450.42 L283.51 450.49 L283.75 450.57 L284.00 450.65 L284.24 450.73 L284.49 450.81 L284.73 450.89 L284.97 450.97 L285.22 451.05 L285.46 451.13 L285.70 451.21 L285.95 451.29 L286.19 451.37 L286.44 451.45 L286.68 451.52 L286.92 451.60 L287.17 451.68 L287.41 451.76 L287.66 451.84 L287.90 451.92 L288.14 452.00 L288.39 452.08 L288.63 452.15 L288.88 452.23 L289.12 452.31 L289.36 452.39 L289.61 452.47 L289.85 452.55 L290.09 452.62 L290.34 452.70 L290.58 452.78 L290.83 452.86 L291.07 452.94 L291.31 453.01 L291.56 453.09 L291.80 453.17 L292.05 453.25 L292.29 453.32 L292.53 453.40 L292.78 453.48 L293.02 453.56 L293.27 453.64 L293.51 453.71 L293.75 453.79 L294.00 453.87 L294.24 453.94 L294.49 454.02 L294.73 454.10 L294.97 454.18 L295.22 454.25 L295.46 454.33 L295.70 454.41 L295.95 454.48 L296.19 454.56 L296.44 454.64 L296.68 454.71 L296.92 454.79 L297.17 454.87 L297.41 454.94 L297.66 455.02 L297.90 455.10 L298.14 455.17 L298.39 455.25 L298.63 455.33 L298.88 455.40 L299.12 455.48 L299.36 455.56 L299.61 455.63 L299.85 455.71 L300.09 455.78 L300.34 455.86 L300.58 455.94 L300.83 456.01 L301.07 456.09 L301.31 456.16 L301.56 456.24 L301.80 456.31 L302.05 456.39 L302.29 456.47 L302.53 456.54 L302.78 456.62 L303.02 456.69 L303.27 456.77 L303.51 456.84 L303.75 456.92 L304.00 456.99 L304.24 457.07 L304.48 457.14 L304.73 457.22 L304.97 457.29 L305.22 457.37 L305.46 457.44 L305.70 457.52 L305.95 457.59 L306.19 457.67 L306.44 457.74 L306.68 457.82 L306.92 457.89 L307.17 457.97 L307.41 458.04 L307.66 458.11 L307.90 458.19 L308.14 458.26 L308.39 458.34 L308.63 458.41 L308.87 458.49 L309.12 458.56 L309.36 458.63 L309.61 458.71 L309.85 458.78 L310.09 458.86 L310.34 458.93 L310.58 459.00 L310.83 459.08 L311.07 459.15 L311.31 459.22 L311.56 459.30 L311.80 459.37 L312.05 459.44 L312.29 459.52 L312.53 459.59 L312.78 459.66 L313.02 459.74 L313.26 459.81 L313.51 459.88 L313.75 459.96 L314.00 460.03 L314.24 460.10 L314.48 460.18 L314.73 460.25 L314.97 460.32 L315.22 460.39 L315.46 460.47 L315.70 460.54 L315.95 460.61 L316.19 460.68 L316.44 460.76 L316.68 460.83 L316.92 460.90 L317.17 460.97 L317.41 461.05 L317.65 461.12 L317.90 461.19 L318.14 461.26 L318.39 461.33 L318.63 461.41 L318.87 461.48 L319.12 461.55 L319.36 461.62 L319.61 461.69 L319.85 461.77 L320.09 461.84 L320.34 461.91 L320.58 461.98 L320.83 462.05 L321.07 462.12 L321.31 462.19 L321.56 462.27 L321.80 462.34 L322.04 462.41 L322.29 462.48 L322.53 462.55 L322.78 462.62 L323.02 462.69 L323.26 462.76 L323.51 462.83 L323.75 462.90 L324.00 462.98 L324.24 463.05 L324.48 463.12 L324.73 463.19 L324.97 463.26 L325.22 463.33 L325.46 463.40 L325.70 463.47 L325.95 463.54 L326.19 463.61 L326.43 463.68 L326.68 463.75 L326.92 463.82 L327.17 463.89 L327.41 463.96 L327.65 464.03 L327.90 464.10 L328.14 464.17 L328.39 464.24 L328.63 464.31 L328.87 464.38 L329.12 464.45 L329.36 464.52 L329.61 464.59 L329.85 464.66 L330.09 464.73 L330.34 464.80 L330.58 464.86 L330.82 464.93 L331.07 465.00 L331.31 465.07 L331.56 465.14 L331.80 465.21 L332.04 465.28 L332.29 465.35 L332.53 465.42 L332.78 465.49 L333.02 465.55 L333.26 465.62 L333.51 465.69 L333.75 465.76 L334.00 465.83 L334.24 465.90 L334.48 465.97 L334.73 466.03 L334.97 466.10 L335.21 466.17 L335.46 466.24 L335.70 466.31 L335.95 466.37 L336.19 466.44 L336.43 466.51 L336.68 466.58 L336.92 466.65 L337.17 466.71 L337.41 466.78 L337.65 466.85 L337.90 466.92 L338.14 466.98 L338.39 467.05 L338.63 467.12 L338.87 467.19 L339.12 467.25 L339.36 467.32 L339.60 467.39 L339.85 467.46 L340.09 467.52 L340.34 467.59 L340.58 467.66 L340.82 467.72 L341.07 467.79 L341.31 467.86 L341.56 467.92 L341.80 467.99 L342.04 468.06 L342.29 468.12 L342.53 468.19 L342.78 468.26 L343.02 468.32 L343.26 468.39 L343.51 468.46 L343.75 468.52 L343.99 468.59 L344.24 468.65 L344.48 468.72 L344.73 468.79 L344.97 468.85 L345.21 468.92 L345.46 468.98 L345.70 469.05 L345.95 469.11 L346.19 469.18 L346.43 469.25 L346.68 469.31 L346.92 469.38 L347.17 469.44 L347.41 469.51 L347.65 469.57 L347.90 469.64 L348.14 469.70 L348.38 469.77 L348.63 469.83 L348.87 469.90 L349.12 469.96 L349.36 470.03 L349.60 470.09 L349.85 470.16 L350.09 470.22 L350.34 470.29 L350.58 470.35 L350.82 470.42 L351.07 470.48 L351.31 470.55 L351.56 470.61 L351.80 470.67 L352.04 470.74 L352.29 470.80 L352.53 470.87 L352.77 470.93 L353.02 471.00 L353.26 471.06 L353.51 471.12 L353.75 471.19 L353.99 471.25 L354.24 471.31 L354.48 471.38 L354.73 471.44 L354.97 471.51 L355.21 471.57 L355.46 471.63 L355.70 471.70 L355.95 471.76 L356.19 471.82 L356.43 471.89 L356.68 471.95 L356.92 472.01 L357.16 472.07 L357.41 472.14 L357.65 472.20 L357.90 472.26 L358.14 472.33 L358.38 472.39 L358.63 472.45 L358.87 472.51 L359.12 472.58 L359.36 472.64 L359.60 472.70 L359.85 472.76 L360.09 472.83 L360.34 472.89 L360.58 472.95 L360.82 473.01 L361.07 473.08 L361.31 473.14 L361.55 473.20 L361.80 473.26 L362.04 473.32 L362.29 473.39 L362.53 473.45 L362.77 473.51 L363.02 473.57 L363.26 473.63 L363.51 473.69 L363.75 473.75" stroke="#00f" stroke-width="1.30"/>
</g></g>
<path d="M108.750 480.300h0.700v6.200h-0.700z M108.750 350.000h0.700v6.200h-0.700z M136.850 483.400h0.700v3.100h-0.700z M136.850 350.000h0.700v3.100h-0.700z M164.950 483.400h0.700v3.100h-0.700z M164.950 350.000h0.700v3.100h-0.700z M193.050 483.400h0.700v3.100h-0.700z M193.050 350.000h0.700v3.100h-0.700z M221.150 480.300h0.700v6.200h-0.700z M221.150 350.000h0.700v6.200h-0.700z M249.250 483.400h0.700v3.100h-0.700z M249.250 350.000h0.700v3.100h-0.700z M277.350 483.400h0.700v3.100h-0.700z M277.350 350.000h0.700v3.100h-0.700z M305.450 483.400h0.700v3.100h-0.700z M305.450 350.000h0.700v3.100h-0.700z M333.550 480.300h0.700v6.200h-0.700z M333.550 350.000h0.700v6.200h-0.700z M361.650 483.400h0.700v3.100h-0.700z M361.650 350.000h0.700v3.100h-0.700z M389.750 483.400h0.700v3.100h-0.700z M389.750 350.000h0.700v3.100h-0.700z M417.850 483.400h0.700v3.100h-0.700z M417.850 350.000h0.700v3.100h-0.700z M445.950 480.300h0.700v6.200h-0.700z M445.950 350.000h0.700v6.200h-0.700z M474.050 483.400h0.700v3.100h-0.700z M474.050 350.000h0.700v3.100h-0.700z M502.150 483.400h0.700v3.100h-0.700z M502.150 350.000h0.700v3.100h-0.700z M530.250 483.400h0.700v3.100h-0.700z M530.250 350.000h0.700v3.100h-0.700z M558.350 480.300h0.700v6.200h-0.700z M558.350 350.000h0.700v6.200h-0.700z M586.450 483.400h0.700v3.100h-0.700z M586.450 350.000h0.700v3.100h-0.700z M614.550 483.400h0.700v3.100h-0.700z M614.550 350.000h0.700v3.100h-0.700z M642.650 483.400h0.700v3.100h-0.700z M642.650 350.000h0.700v3.100h-0.700z M670.750 480.300h0.700v6.200h-0.700z M670.750 350.000h0.700v6.200h-0.700z M698.850 483.400h0.700v3.100h-0.700z M698.850 350.000h0.700v3.100h-0.700z M80.535 349.740h0.930v137.020h-0.930z M727.075 349.740h0.450v137.020h-0.450z" fill="#000"/>
<g fill="#000"><rect x="81.00" y="418" width="646.30" height="1" fill-opacity="0.300"/><rect x="81.00" y="486" width="12.50" height="1" fill-opacity="0.300"/><rect x="714.80" y="486" width="12.50" height="1" fill-opacity="0.300"/><rect x="81.00" y="481" width="6.50" height="1" fill-opacity="0.200"/><rect x="81.00" y="482" width="6.50" height="1" fill-opacity="0.100"/><rect x="720.80" y="481" width="6.50" height="1" fill-opacity="0.200"/><rect x="720.80" y="482" width="6.50" height="1" fill-opacity="0.100"/><rect x="81.00" y="477" width="6.50" height="1" fill-opacity="0.300"/><rect x="720.80" y="477" width="6.50" height="1" fill-opacity="0.300"/><rect x="81.00" y="472" width="6.50" height="1" fill-opacity="0.300"/><rect x="720.80" y="472" width="6.50" height="1" fill-opacity="0.300"/><rect x="81.00" y="468" width="6.50" height="1" fill-opacity="0.300"/><rect x="720.80" y="468" width="6.50" height="1" fill-opacity="0.300"/><rect x="81.00" y="463" width="12.50" height="1" fill-opacity="0.300"/><rect x="714.80" y="463" width="12.50" height="1" fill-opacity="0.300"/><rect x="81.00" y="459" width="6.50" height="1" fill-opacity="0.300"/><rect x="720.80" y="459" width="6.50" height="1" fill-opacity="0.300"/><rect x="81.00" y="454" width="6.50" height="1" fill-opacity="0.300"/><rect x="720.80" y="454" width="6.50" height="1" fill-opacity="0.300"/><rect x="81.00" y="449" width="6.50" height="1" fill-opacity="0.050"/><rect x="81.00" y="450" width="6.50" height="1" fill-opacity="0.250"/><rect x="720.80" y="449" width="6.50" height="1" fill-opacity="0.050"/><rect x="720.80" y="450" width="6.50" height="1" fill-opacity="0.250"/><rect x="81.00" y="445" width="6.50" height="1" fill-opacity="0.300"/><rect x="720.80" y="445" width="6.50" height="1" fill-opacity="0.300"/><rect x="81.00" y="440" width="12.50" height="1" fill-opacity="0.150"/><rect x="81.00" y="441" width="12.50" height="1" fill-opacity="0.150"/><rect x="714.80" y="440" width="12.50" height="1" fill-opacity="0.150"/><rect x="714.80" y="441" width="12.50" height="1" fill-opacity="0.150"/><rect x="81.00" y="436" width="6.50" height="1" fill-opacity="0.300"/><rect x="720.80" y="436" width="6.50" height="1" fill-opacity="0.300"/><rect x="81.00" y="431" width="6.50" height="1" fill-opacity="0.250"/><rect x="81.00" y="432" width="6.50" height="1" fill-opacity="0.050"/><rect x="720.80" y="431" width="6.50" height="1" fill-opacity="0.250"/><rect x="720.80" y="432" width="6.50" height="1" fill-opacity="0.050"/><rect x="81.00" y="427" width="6.50" height="1" fill-opacity="0.300"/><rect x="720.80" y="427" width="6.50" height="1" fill-opacity="0.300"/><rect x="81.00" y="422" width="6.50" height="1" fill-opacity="0.300"/><rect x="720.80" y="422" width="6.50" height="1" fill-opacity="0.300"/><rect x="81.00" y="418" width="12.50" height="1" fill-opacity="0.300"/><rect x="714.80" y="418" width="12.50" height="1" fill-opacity="0.300"/><rect x="81.00" y="413" width="6.50" height="1" fill-opacity="0.300"/><rect x="720.80" y="413" width="6.50" height="1" fill-opacity="0.300"/><rect x="81.00" y="409" width="6.50" height="1" fill-opacity="0.300"/><rect x="720.80" y="409" width="6.50" height="1" fill-opacity="0.300"/><rect x="81.00" y="404" width="6.50" height="1" fill-opacity="0.300"/><rect x="720.80" y="404" width="6.50" height="1" fill-opacity="0.300"/><rect x="81.00" y="399" width="6.50" height="1" fill-opacity="0.100"/><rect x="81.00" y="400" width="6.50" height="1" fill-opacity="0.200"/><rect x="720.80" y="399" width="6.50" height="1" fill-opacity="0.100"/><rect x="720.80" y="400" width="6.50" height="1" fill-opacity="0.200"/><rect x="81.00" y="395" width="12.50" height="1" fill-opacity="0.300"/><rect x="714.80" y="395" width="12.50" height="1" fill-opacity="0.300"/><rect x="81.00" y="390" width="6.50" height="1" fill-opacity="0.200"/><rect x="81.00" y="391" width="6.50" height="1" fill-opacity="0.100"/><rect x="720.80" y="390" width="6.50" height="1" fill-opacity="0.200"/><rect x="720.80" y="391" width="6.50" height="1" fill-opacity="0.100"/><rect x="81.00" y="386" width="6.50" height="1" fill-opacity="0.300"/><rect x="720.80" y="386" width="6.50" height="1" fill-opacity="0.300"/><rect x="81.00" y="381" width="6.50" height="1" fill-opacity="0.300"/><rect x="720.80" y="381" width="6.50" height="1" fill-opacity="0.300"/><rect x="81.00" y="377" width="6.50" height="1" fill-opacity="0.300"/><rect x="720.80" y="377" width="6.50" height="1" fill-opacity="0.300"/><rect x="81.00" y="372" width="12.50" height="1" fill-opacity="0.300"/><rect x="714.80" y="372" width="12.50" height="1" fill-opacity="0.300"/><rect x="81.00" y="368" width="6.50" height="1" fill-opacity="0.300"/><rect x="720.80" y="368" width="6.50" height="1" fill-opacity="0.300"/><rect x="81.00" y="363" width="6.50" height="1" fill-opacity="0.300"/><rect x="720.80" y="363" width="6.50" height="1" fill-opacity="0.300"/><rect x="81.00" y="358" width="6.50" height="1" fill-opacity="0.050"/><rect x="81.00" y="359" width="6.50" height="1" fill-opacity="0.250"/><rect x="720.80" y="358" width="6.50" height="1" fill-opacity="0.050"/><rect x="720.80" y="359" width="6.50" height="1" fill-opacity="0.250"/><rect x="81.00" y="354" width="6.50" height="1" fill-opacity="0.300"/><rect x="720.80" y="354" width="6.50" height="1" fill-opacity="0.300"/><rect x="81.00" y="349" width="12.50" height="1" fill-opacity="0.150"/><rect x="81.00" y="350" width="12.50" height="1" fill-opacity="0.150"/><rect x="714.80" y="349" width="12.50" height="1" fill-opacity="0.150"/><rect x="714.80" y="350" width="12.50" height="1" fill-opacity="0.150"/><rect x="80.53" y="349" width="647.01" height="1" fill-opacity="0.260"/><rect x="80.53" y="350" width="647.01" height="1" fill-opacity="0.260"/><rect x="80.53" y="486" width="647.01" height="1" fill-opacity="0.520"/></g>
<path transform="matrix(2.00000 0.00000 -0.00000 1.00000 0.00 352.65)" d="M30.94 -5.40 L28.11 -5.40 L27.83 -3.09 L28.11 -3.34 L28.96 -3.60 L29.81 -3.60 L30.65 -3.34 L31.22 -2.83 L31.50 -2.06 L31.50 -1.54 L31.22 -0.77 L30.65 -0.26 L29.81 0.00 L28.96 0.00 L28.11 -0.26 L27.83 -0.51 L27.55 -1.03 M23.40 -4.37 L23.94 -4.63 L24.75 -5.40 L24.75 0.00" fill="none" stroke="#000" stroke-width="0.62" stroke-linecap="round" stroke-linejoin="round"/>
<path transform="matrix(2.00000 0.00000 -0.00000 1.00000 0.00 375.40)" d="M29.24 -5.40 L28.40 -5.14 L27.83 -4.37 L27.55 -3.09 L27.55 -2.31 L27.83 -1.03 L28.40 -0.26 L29.24 0.00 L29.81 0.00 L30.65 -0.26 L31.22 -1.03 L31.50 -2.31 L31.50 -3.09 L31.22 -4.37 L30.65 -5.14 L29.81 -5.40 L29.24 -5.40 M23.40 -4.37 L23.94 -4.63 L24.75 -5.40 L24.75 0.00" fill="none" stroke="#000" stroke-width="0.62" stroke-linecap="round" stroke-linejoin="round"/>
<path transform="matrix(2.00000 0.00000 -0.00000 1.00000 0.00 398.15)" d="M30.94 -5.40 L28.11 -5.40 L27.83 -3.09 L28.11 -3.34 L28.96 -3.60 L29.81 -3.60 L30.65 -3.34 L31.22 -2.83 L31.50 -2.06 L31.50 -1.54 L31.22 -0.77 L30.65 -0.26 L29.81 0.00 L28.96 0.00 L28.11 -0.26 L27.83 -0.51 L27.55 -1.03" fill="none" stroke="#000" stroke-width="0.62" stroke-linecap="round" stroke-linejoin="round"/>
<path transform="matrix(2.00000 0.00000 -0.00000 1.00000 0.00 420.90)" d="M29.24 -5.40 L28.40 -5.14 L27.83 -4.37 L27.55 -3.09 L27.55 -2.31 L27.83 -1.03 L28.40 -0.26 L29.24 0.00 L29.81 0.00 L30.65 -0.26 L31.22 -1.03 L31.50 -2.31 L31.50 -3.09 L31.22 -4.37 L30.65 -5.14 L29.81 -5.40 L29.24 -5.40" fill="none" stroke="#000" stroke-width="0.62" stroke-linecap="round" stroke-linejoin="round"/>
<path transform="matrix(2.00000 0.00000 -0.00000 1.00000 0.00 443.65)" d="M30.94 -5.40 L28.11 -5.40 L27.83 -3.09 L28.11 -3.34 L28.96 -3.60 L29.81 -3.60 L30.65 -3.34 L31.22 -2.83 L31.50 -2.06 L31.50 -1.54 L31.22 -0.77 L30.65 -0.26 L29.81 0.00 L28.96 0.00 L28.11 -0.26 L27.83 -0.51 L27.55 -1.03 M21.20 -2.15 L25.70 -2.15" fill="none" stroke="#000" stroke-width="0.62" stroke-linecap="round" stroke-linejoin="round"/>
<path transform="matrix(2.00000 0.00000 -0.00000 1.00000 0.00 466.40)" d="M29.24 -5.40 L28.40 -5.14 L27.83 -4.37 L27.55 -3.09 L27.55 -2.31 L27.83 -1.03 L28.40 -0.26 L29.24 0.00 L29.81 0.00 L30.65 -0.26 L31.22 -1.03 L31.50 -2.31 L31.50 -3.09 L31.22 -4.37 L30.65 -5.14 L29.81 -5.40 L29.24 -5.40 M23.40 -4.37 L23.94 -4.63 L24.75 -5.40 L24.75 0.00 M15.95 -2.90 L20.45 -2.90" fill="none" stroke="#000" stroke-width="0.62" stroke-linecap="round" stroke-linejoin="round"/>
<path transform="matrix(2.00000 0.00000 -0.00000 1.00000 0.00 489.15)" d="M30.94 -5.40 L28.11 -5.40 L27.83 -3.09 L28.11 -3.34 L28.96 -3.60 L29.81 -3.60 L30.65 -3.34 L31.22 -2.83 L31.50 -2.06 L31.50 -1.54 L31.22 -0.77 L30.65 -0.26 L29.81 0.00 L28.96 0.00 L28.11 -0.26 L27.83 -0.51 L27.55 -1.03 M23.40 -4.37 L23.94 -4.63 L24.75 -5.40 L24.75 0.00 M15.95 -2.65 L20.45 -2.65" fill="none" stroke="#000" stroke-width="0.62" stroke-linecap="round" stroke-linejoin="round"/>
<path transform="matrix(2.00000 0.00000 -0.00000 1.00000 0.00 495.60)" d="M49.82 -5.40 L47.35 -1.49 L51.05 -1.49 M49.82 -5.40 L49.82 0.00 M54.30 -5.40 L53.54 -5.14 L53.03 -4.37 L52.77 -3.09 L52.77 -2.31 L53.03 -1.03 L53.54 -0.26 L54.30 0.00 L54.80 0.00 L55.56 -0.26 L56.07 -1.03 L56.32 -2.31 L56.32 -3.09 L56.07 -4.37 L55.56 -5.14 L54.80 -5.40 L54.30 -5.40 M59.57 -5.40 L58.81 -5.14 L58.30 -4.37 L58.05 -3.09 L58.05 -2.31 L58.30 -1.03 L58.81 -0.26 L59.57 0.00 L60.08 0.00 L60.84 -0.26 L61.35 -1.03 L61.60 -2.31 L61.60 -3.09 L61.35 -4.37 L60.84 -5.14 L60.08 -5.40 L59.57 -5.40" fill="none" stroke="#000" stroke-width="0.62" stroke-linecap="round" stroke-linejoin="round"/>
<path transform="matrix(2.00000 0.00000 -0.00000 1.00000 0.00 495.60)" d="M106.98 -4.63 L106.70 -5.14 L105.88 -5.40 L105.34 -5.40 L104.52 -5.14 L103.97 -4.37 L103.70 -3.09 L103.70 -1.80 L103.97 -0.77 L104.52 -0.26 L105.34 0.00 L105.61 0.00 L106.43 -0.26 L106.98 -0.77 L107.25 -1.54 L107.25 -1.80 L106.98 -2.57 L106.43 -3.09 L105.61 -3.34 L105.34 -3.34 L104.52 -3.09 L103.97 -2.57 L103.70 -1.80 M110.50 -5.40 L109.74 -5.14 L109.23 -4.37 L108.98 -3.09 L108.98 -2.31 L109.23 -1.03 L109.74 -0.26 L110.50 0.00 L111.00 0.00 L111.76 -0.26 L112.27 -1.03 L112.53 -2.31 L112.53 -3.09 L112.27 -4.37 L111.76 -5.14 L111.00 -5.40 L110.50 -5.40 M115.77 -5.40 L115.01 -5.14 L114.50 -4.37 L114.25 -3.09 L114.25 -2.31 L114.50 -1.03 L115.01 -0.26 L115.77 0.00 L116.28 0.00 L117.04 -0.26 L117.55 -1.03 L117.80 -2.31 L117.80 -3.09 L117.55 -4.37 L117.04 -5.14 L116.28 -5.40 L115.77 -5.40" fill="none" stroke="#000" stroke-width="0.62" stroke-linecap="round" stroke-linejoin="round"/>
<path transform="matrix(2.00000 0.00000 -0.00000 1.00000 0.00 495.60)" d="M161.17 -5.40 L160.41 -5.14 L160.15 -4.63 L160.15 -4.11 L160.41 -3.60 L160.91 -3.34 L161.93 -3.09 L162.69 -2.83 L163.20 -2.31 L163.45 -1.80 L163.45 -1.03 L163.20 -0.51 L162.94 -0.26 L162.18 0.00 L161.17 0.00 L160.41 -0.26 L160.15 -0.51 L159.90 -1.03 L159.90 -1.80 L160.15 -2.31 L160.66 -2.83 L161.42 -3.09 L162.44 -3.34 L162.94 -3.60 L163.20 -4.11 L163.20 -4.63 L162.94 -5.14 L162.18 -5.40 L161.17 -5.40 M166.70 -5.40 L165.94 -5.14 L165.43 -4.37 L165.18 -3.09 L165.18 -2.31 L165.43 -1.03 L165.94 -0.26 L166.70 0.00 L167.20 0.00 L167.96 -0.26 L168.47 -1.03 L168.72 -2.31 L168.72 -3.09 L168.47 -4.37 L167.96 -5.14 L167.20 -5.40 L166.70 -5.40 M171.97 -5.40 L171.21 -5.14 L170.70 -4.37 L170.45 -3.09 L170.45 -2.31 L170.70 -1.03 L171.21 -0.26 L171.97 0.00 L172.48 0.00 L173.24 -0.26 L173.75 -1.03 L174.00 -2.31 L174.00 -3.09 L173.75 -4.37 L173.24 -5.14 L172.48 -5.40 L171.97 -5.40" fill="none" stroke="#000" stroke-width="0.62" stroke-linecap="round" stroke-linejoin="round"/>
<path transform="matrix(2.00000 0.00000 -0.00000 1.00000 0.00 495.60)" d="M214.59 -4.37 L215.11 -4.63 L215.89 -5.40 L215.89 0.00 M220.76 -5.40 L220.00 -5.14 L219.49 -4.37 L219.24 -3.09 L219.24 -2.31 L219.49 -1.03 L220.00 -0.26 L220.76 0.00 L221.27 0.00 L222.03 -0.26 L222.53 -1.03 L222.79 -2.31 L222.79 -3.09 L222.53 -4.37 L222.03 -5.14 L221.27 -5.40 L220.76 -5.40 M226.03 -5.40 L225.27 -5.14 L224.77 -4.37 L224.51 -3.09 L224.51 -2.31 L224.77 -1.03 L225.27 -0.26 L226.03 0.00 L226.54 0.00 L227.30 -0.26 L227.81 -1.03 L228.06 -2.31 L228.06 -3.09 L227.81 -4.37 L227.30 -5.14 L226.54 -5.40 L226.03 -5.40 M231.31 -5.40 L230.55 -5.14 L230.04 -4.37 L229.79 -3.09 L229.79 -2.31 L230.04 -1.03 L230.55 -0.26 L231.31 0.00 L231.82 0.00 L232.58 -0.26 L233.08 -1.03 L233.34 -2.31 L233.34 -3.09 L233.08 -4.37 L232.58 -5.14 L231.82 -5.40 L231.31 -5.40" fill="none" stroke="#000" stroke-width="0.62" stroke-linecap="round" stroke-linejoin="round"/>
<path transform="matrix(2.00000 0.00000 -0.00000 1.00000 0.00 495.60)" d="M270.79 -4.37 L271.31 -4.63 L272.09 -5.40 L272.09 0.00 M275.69 -4.11 L275.69 -4.37 L275.94 -4.89 L276.20 -5.14 L276.71 -5.40 L277.72 -5.40 L278.23 -5.14 L278.48 -4.89 L278.73 -4.37 L278.73 -3.86 L278.48 -3.34 L277.97 -2.57 L275.44 0.00 L278.99 0.00 M282.23 -5.40 L281.47 -5.14 L280.97 -4.37 L280.71 -3.09 L280.71 -2.31 L280.97 -1.03 L281.47 -0.26 L282.23 0.00 L282.74 0.00 L283.50 -0.26 L284.01 -1.03 L284.26 -2.31 L284.26 -3.09 L284.01 -4.37 L283.50 -5.14 L282.74 -5.40 L282.23 -5.40 M287.51 -5.40 L286.75 -5.14 L286.24 -4.37 L285.99 -3.09 L285.99 -2.31 L286.24 -1.03 L286.75 -0.26 L287.51 0.00 L288.02 0.00 L288.78 -0.26 L289.28 -1.03 L289.54 -2.31 L289.54 -3.09 L289.28 -4.37 L288.78 -5.14 L288.02 -5.40 L287.51 -5.40" fill="none" stroke="#000" stroke-width="0.62" stroke-linecap="round" stroke-linejoin="round"/>
<path transform="matrix(2.00000 0.00000 -0.00000 1.00000 0.00 495.60)" d="M326.99 -4.37 L327.51 -4.63 L328.29 -5.40 L328.29 0.00 M333.95 -5.40 L331.49 -1.49 L335.19 -1.49 M333.95 -5.40 L333.95 0.00 M338.43 -5.40 L337.67 -5.14 L337.17 -4.37 L336.91 -3.09 L336.91 -2.31 L337.17 -1.03 L337.67 -0.26 L338.43 0.00 L338.94 0.00 L339.70 -0.26 L340.21 -1.03 L340.46 -2.31 L340.46 -3.09 L340.21 -4.37 L339.70 -5.14 L338.94 -5.40 L338.43 -5.40 M343.71 -5.40 L342.95 -5.14 L342.44 -4.37 L342.19 -3.09 L342.19 -2.31 L342.44 -1.03 L342.95 -0.26 L343.71 0.00 L344.22 0.00 L344.98 -0.26 L345.48 -1.03 L345.74 -2.31 L345.74 -3.09 L345.48 -4.37 L344.98 -5.14 L344.22 -5.40 L343.71 -5.40" fill="none" stroke="#000" stroke-width="0.62" stroke-linecap="round" stroke-linejoin="round"/>
<path transform="matrix(2.00000 0.00000 -0.00000 1.00000 93.85 427.95)" d="M0.00 0.00 L0.00 -5.70 L2.40 0.00 L4.80 -5.70 L4.80 0.00 M6.42 -1.35 L6.42 1.50 M8.82 -1.35 L8.82 1.50 M6.42 0.01 L8.82 0.01 M10.45 -3.34 L15.25 -3.34 M10.45 -1.63 L15.25 -1.63 M18.45 -4.61 L19.03 -4.89 L19.90 -5.70 L19.90 0.00 M23.66 -4.34 L23.66 -4.61 L23.93 -5.16 L24.19 -5.43 L24.72 -5.70 L25.78 -5.70 L26.31 -5.43 L26.57 -5.16 L26.84 -4.61 L26.84 -4.07 L26.57 -3.53 L26.04 -2.71 L23.40 0.00 L27.10 0.00 M31.08 -5.70 L30.04 -5.43 L29.35 -4.61 L29.00 -3.26 L29.00 -2.44 L29.35 -1.09 L30.04 -0.27 L31.08 0.00 L31.77 0.00 L32.81 -0.27 L33.50 -1.09 L33.85 -2.44 L33.85 -3.26 L33.50 -4.61 L32.81 -5.43 L31.77 -5.70 L31.08 -5.70 M39.60 -4.34 L39.28 -4.89 L38.64 -5.43 L38.00 -5.70 L36.72 -5.70 L36.08 -5.43 L35.44 -4.89 L35.12 -4.34 L34.80 -3.53 L34.80 -2.17 L35.12 -1.36 L35.44 -0.81 L36.08 -0.27 L36.72 0.00 L38.00 0.00 L38.64 -0.27 L39.28 -0.81 L39.60 -1.36 L39.60 -2.17 L38.00 -2.17 M40.90 -2.17 L44.25 -2.17 L44.25 -2.71 L43.97 -3.26 L43.69 -3.53 L43.13 -3.80 L42.30 -3.80 L41.74 -3.53 L41.18 -2.99 L40.90 -2.17 L40.90 -1.63 L41.18 -0.81 L41.74 -0.27 L42.30 0.00 L43.13 0.00 L43.69 -0.27 L44.25 -0.81 M45.25 -5.70 L47.72 0.00 L50.20 -5.70" fill="none" stroke="#f00" stroke-width="0.60" stroke-linecap="round" stroke-linejoin="round"/>
<path transform="matrix(1.99079 0.09585 -0.19169 0.99540 110.90 389.30)" d="M0.00 0.00 L0.00 -5.70 L2.40 0.00 L4.80 -5.70 L4.80 0.00 M6.42 -1.35 L6.42 1.50 M8.82 -1.35 L8.82 1.50 M6.42 0.01 L8.82 0.01 M10.45 -3.34 L15.25 -3.34 M10.45 -1.63 L15.25 -1.63 M18.45 -4.61 L19.03 -4.89 L19.90 -5.70 L19.90 0.00 M26.96 -5.70 L23.99 -5.70 L23.70 -3.26 L23.99 -3.53 L24.88 -3.80 L25.77 -3.80 L26.66 -3.53 L27.25 -2.99 L27.55 -2.17 L27.55 -1.63 L27.25 -0.81 L26.66 -0.27 L25.77 0.00 L24.88 0.00 L23.99 -0.27 L23.70 -0.54 L23.40 -1.09 M31.08 -5.70 L30.04 -5.43 L29.35 -4.61 L29.00 -3.26 L29.00 -2.44 L29.35 -1.09 L30.04 -0.27 L31.08 0.00 L31.77 0.00 L32.81 -0.27 L33.50 -1.09 L33.85 -2.44 L33.85 -3.26 L33.50 -4.61 L32.81 -5.43 L31.77 -5.70 L31.08 -5.70 M39.60 -4.34 L39.28 -4.89 L38.64 -5.43 L38.00 -5.70 L36.72 -5.70 L36.08 -5.43 L35.44 -4.89 L35.12 -4.34 L34.80 -3.53 L34.80 -2.17 L35.12 -1.36 L35.44 -0.81 L36.08 -0.27 L36.72 0.00 L38.00 0.00 L38.64 -0.27 L39.28 -0.81 L39.60 -1.36 L39.60 -2.17 L38.00 -2.17 M40.90 -2.17 L44.25 -2.17 L44.25 -2.71 L43.97 -3.26 L43.69 -3.53 L43.13 -3.80 L42.30 -3.80 L41.74 -3.53 L41.18 -2.99 L40.90 -2.17 L40.90 -1.63 L41.18 -0.81 L41.74 -0.27 L42.30 0.00 L43.13 0.00 L43.69 -0.27 L44.25 -0.81 M45.25 -5.70 L47.72 0.00 L50.20 -5.70" fill="none" stroke="#0f0" stroke-width="0.60" stroke-linecap="round" stroke-linejoin="round"/>
<path transform="matrix(1.89104 0.32557 -0.65114 0.94552 201.40 376.80)" d="M0.00 0.00 L0.00 -5.70 L2.40 0.00 L4.80 -5.70 L4.80 0.00 M6.42 -1.35 L6.42 1.50 M8.82 -1.35 L8.82 1.50 M6.42 0.01 L8.82 0.01 M10.45 -3.34 L15.25 -3.34 M10.45 -1.63 L15.25 -1.63 M18.45 -4.61 L19.03 -4.89 L19.90 -5.70 L19.90 0.00 M24.88 -5.70 L23.99 -5.43 L23.70 -4.89 L23.70 -4.34 L23.99 -3.80 L24.59 -3.53 L25.77 -3.26 L26.66 -2.99 L27.25 -2.44 L27.55 -1.90 L27.55 -1.09 L27.25 -0.54 L26.96 -0.27 L26.07 0.00 L24.88 0.00 L23.99 -0.27 L23.70 -0.54 L23.40 -1.09 L23.40 -1.90 L23.70 -2.44 L24.29 -2.99 L25.18 -3.26 L26.36 -3.53 L26.96 -3.80 L27.25 -4.34 L27.25 -4.89 L26.96 -5.43 L26.07 -5.70 L24.88 -5.70 M31.08 -5.70 L30.04 -5.43 L29.35 -4.61 L29.00 -3.26 L29.00 -2.44 L29.35 -1.09 L30.04 -0.27 L31.08 0.00 L31.77 0.00 L32.81 -0.27 L33.50 -1.09 L33.85 -2.44 L33.85 -3.26 L33.50 -4.61 L32.81 -5.43 L31.77 -5.70 L31.08 -5.70 M39.60 -4.34 L39.28 -4.89 L38.64 -5.43 L38.00 -5.70 L36.72 -5.70 L36.08 -5.43 L35.44 -4.89 L35.12 -4.34 L34.80 -3.53 L34.80 -2.17 L35.12 -1.36 L35.44 -0.81 L36.08 -0.27 L36.72 0.00 L38.00 0.00 L38.64 -0.27 L39.28 -0.81 L39.60 -1.36 L39.60 -2.17 L38.00 -2.17 M40.90 -2.17 L44.25 -2.17 L44.25 -2.71 L43.97 -3.26 L43.69 -3.53 L43.13 -3.80 L42.30 -3.80 L41.74 -3.53 L41.18 -2.99 L40.90 -2.17 L40.90 -1.63 L41.18 -0.81 L41.74 -0.27 L42.30 0.00 L43.13 0.00 L43.69 -0.27 L44.25 -0.81 M45.25 -5.70 L47.72 0.00 L50.20 -5.70" fill="none" stroke="#00f" stroke-width="0.60" stroke-linecap="round" stroke-linejoin="round"/>
<path transform="matrix(1.91056 0.29571 -0.59142 0.95528 336.00 452.50)" d="M0.00 0.00 L0.00 -5.70 L2.40 0.00 L4.80 -5.70 L4.80 0.00 M6.42 -1.35 L6.42 1.50 M8.82 -1.35 L8.82 1.50 M6.42 0.01 L8.82 0.01 M10.45 -3.34 L15.25 -3.34 M10.45 -1.63 L15.25 -1.63 M18.45 -4.61 L19.03 -4.89 L19.90 -5.70 L19.90 0.00 M23.66 -4.34 L23.66 -4.61 L23.93 -5.16 L24.19 -5.43 L24.72 -5.70 L25.78 -5.70 L26.31 -5.43 L26.57 -5.16 L26.84 -4.61 L26.84 -4.07 L26.57 -3.53 L26.04 -2.71 L23.40 0.00 L27.10 0.00 M31.08 -5.70 L30.04 -5.43 L29.35 -4.61 L29.00 -3.26 L29.00 -2.44 L29.35 -1.09 L30.04 -0.27 L31.08 0.00 L31.77 0.00 L32.81 -0.27 L33.50 -1.09 L33.85 -2.44 L33.85 -3.26 L33.50 -4.61 L32.81 -5.43 L31.77 -5.70 L31.08 -5.70 M39.60 -4.34 L39.28 -4.89 L38.64 -5.43 L38.00 -5.70 L36.72 -5.70 L36.08 -5.43 L35.44 -4.89 L35.12 -4.34 L34.80 -3.53 L34.80 -2.17 L35.12 -1.36 L35.44 -0.81 L36.08 -0.27 L36.72 0.00 L38.00 0.00 L38.64 -0.27 L39.28 -0.81 L39.60 -1.36 L39.60 -2.17 L38.00 -2.17 M40.90 -2.17 L44.25 -2.17 L44.25 -2.71 L43.97 -3.26 L43.69 -3.53 L43.13 -3.80 L42.30 -3.80 L41.74 -3.53 L41.18 -2.99 L40.90 -2.17 L40.90 -1.63 L41.18 -0.81 L41.74 -0.27 L42.30 0.00 L43.13 0.00 L43.69 -0.27 L44.25 -0.81 M45.25 -5.70 L47.72 0.00 L50.20 -5.70 M51.75 -0.27 L51.42 0.00 L51.10 -0.27 L51.42 -0.54 L51.75 -0.27 L51.75 0.27 L51.42 0.81 L51.10 1.09 M59.93 -6.19 L59.61 -6.60 L58.81 -6.74 L57.84 -6.46 L57.52 -5.92 L57.84 -5.24 L58.81 -4.56 L59.77 -4.02 L60.25 -3.21 L60.25 -2.39 L59.77 -1.58 L58.97 -1.04 L58.16 -0.90 L57.36 -1.04 L56.72 -1.58 L56.40 -2.39 L56.56 -3.21 L57.04 -3.89 L57.84 -4.37 L58.81 -4.56 M60.90 -1.95 L61.74 0.90 L62.58 -1.95 L63.41 0.90 L64.25 -1.95 M67.15 -7.67 L66.97 -7.94 L66.62 -8.21 L66.27 -8.35 L65.56 -8.35 L65.21 -8.21 L64.85 -7.94 L64.68 -7.67 L64.50 -7.26 L64.50 -6.59 L64.68 -6.18 L64.85 -5.91 L65.21 -5.64 L65.56 -5.50 L66.27 -5.50 L66.62 -5.64 L66.97 -5.91 L67.15 -6.18 L67.15 -6.59 L66.27 -6.59" fill="none" stroke="#f00" stroke-width="0.60" stroke-linecap="round" stroke-linejoin="round"/>
<path transform="matrix(2.00000 0.00000 -0.00000 1.00000 0.00 475.25)" d="M55.58 -3.05 L60.42 -3.05 L60.42 -3.81 L60.02 -4.57 L59.62 -4.95 L58.81 -5.33 L57.60 -5.33 L56.79 -4.95 L55.98 -4.19 L55.58 -3.05 L55.58 -2.29 L55.98 -1.14 L56.79 -0.38 L57.60 0.00 L58.81 0.00 L59.62 -0.38 L60.42 -1.14 M63.85 -9.10 L63.85 -5.85 M62.23 -7.48 L65.47 -7.48 M67.42 -3.05 L72.38 -3.05 L72.38 -3.81 L71.96 -4.57 L71.55 -4.95 L70.72 -5.33 L69.49 -5.33 L68.66 -4.95 L67.84 -4.19 L67.42 -3.05 L67.42 -2.29 L67.84 -1.14 L68.66 -0.38 L69.49 0.00 L70.72 0.00 L71.55 -0.38 L72.38 -1.14 M74.17 -8.04 L77.33 -8.04 M81.30 -4.00 L95.95 -4.00 M90.82 -8.00 L95.95 -4.00 L90.82 0.00 M104.53 -8.00 L109.52 -8.00 L104.53 0.00 L109.52 0.00 M116.23 -8.00 L116.23 0.00 M121.77 -8.00 L121.77 0.00 M116.23 -4.19 L121.77 -4.19 M128.62 -8.00 L128.62 0.00 M134.28 -8.00 L134.28 0.00 M128.62 -4.19 L134.28 -4.19" fill="none" stroke="#000" stroke-width="0.66" stroke-linecap="round" stroke-linejoin="round"/>
<path transform="matrix(2.00000 0.00000 -0.00000 1.00000 0.00 510.10)" d="M316.57 -3.16 L319.28 0.00 L324.30 -7.90 M329.73 -4.35 L329.35 -5.14 L328.22 -5.53 L327.08 -5.53 L325.95 -5.14 L325.57 -4.35 L325.95 -3.56 L326.71 -3.16 L328.59 -2.77 L329.35 -2.37 L329.73 -1.58 L329.73 -1.19 L329.35 -0.40 L328.22 0.00 L327.08 0.00 L325.95 -0.40 L325.57 -1.19 M335.03 -9.88 L334.25 -9.09 L333.48 -7.90 L332.71 -6.32 L332.32 -4.35 L332.32 -2.77 L332.71 -0.79 L333.48 0.79 L334.25 1.98 L335.03 2.77 M343.38 -6.32 L342.97 -7.11 L342.15 -7.90 L341.34 -8.30 L339.71 -8.30 L338.90 -7.90 L338.09 -7.11 L337.68 -6.32 L337.27 -5.14 L337.27 -3.16 L337.68 -1.98 L338.09 -1.19 L338.90 -0.40 L339.71 0.00 L341.34 0.00 L342.15 -0.40 L342.97 -1.19 L343.38 -1.98 L343.38 -3.16 L341.34 -3.16 M345.47 -3.16 L350.28 -3.16 L350.28 -3.95 L349.88 -4.74 L349.48 -5.14 L348.68 -5.53 L347.48 -5.53 L346.67 -5.14 L345.88 -4.35 L345.47 -3.16 L345.47 -2.37 L345.88 -1.19 L346.67 -0.40 L347.48 0.00 L348.68 0.00 L349.48 -0.40 L350.28 -1.19 M351.72 -8.30 L354.70 0.00 L357.68 -8.30 M359.43 -9.88 L360.21 -9.09 L361.00 -7.90 L361.78 -6.32 L362.18 -4.35 L362.18 -2.77 L361.78 -0.79 L361.00 0.79 L360.21 1.98 L359.43 2.77" fill="none" stroke="#000" stroke-width="0.68" stroke-linecap="round" stroke-linejoin="round"/>
<path transform="matrix(0.00000 -1.00000 2.00000 0.00000 24.60 380.30)" d="M4.43 -7.71 L4.02 -8.30 L2.98 -8.50 L1.73 -8.10 L1.31 -7.31 L1.73 -6.32 L2.98 -5.34 L4.22 -4.55 L4.85 -3.36 L4.85 -2.17 L4.22 -0.99 L3.18 -0.20 L2.14 0.00 L1.10 -0.20 L0.27 -0.99 L-0.15 -2.17 L0.06 -3.36 L0.68 -4.35 L1.73 -5.06 L2.98 -5.34 M14.30 -9.88 L13.67 -9.09 L13.04 -7.90 L12.41 -6.32 L12.10 -4.35 L12.10 -2.77 L12.41 -0.79 L13.04 0.79 L13.67 1.98 L14.30 2.77 M24.20 -8.30 L16.90 0.00 M18.93 -8.30 L19.74 -7.51 L19.74 -6.72 L19.33 -5.93 L18.52 -5.53 L17.71 -5.53 L16.90 -6.32 L16.90 -7.11 L17.31 -7.90 L18.12 -8.30 L18.93 -8.30 L19.74 -7.90 L20.96 -7.51 L22.17 -7.51 L23.39 -7.90 L24.20 -8.30 M22.58 -2.77 L21.77 -2.37 L21.36 -1.58 L21.36 -0.79 L22.17 0.00 L22.98 0.00 L23.79 -0.40 L24.20 -1.19 L24.20 -1.98 L23.39 -2.77 L22.58 -2.77 M26.10 -9.88 L26.99 -9.09 L27.87 -7.90 L28.76 -6.32 L29.20 -4.35 L29.20 -2.77 L28.76 -0.79 L27.87 0.79 L26.99 1.98 L26.10 2.77" fill="none" stroke="#000" stroke-width="0.68" stroke-linecap="round" stroke-linejoin="round"/><path transform="matrix(0.00000 -1.00000 2.00000 0.00000 24.60 380.30)" d="M6.90 -2.15 L7.48 2.00 L8.06 -2.15 L9.04 -2.15 L9.62 2.00 L10.20 -2.15" fill="none" stroke="#000" stroke-width="0.42" stroke-linecap="round" stroke-linejoin="round"/>
</svg>
</body></html>
